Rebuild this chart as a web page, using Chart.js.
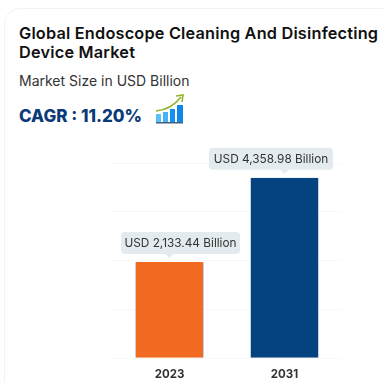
<!DOCTYPE html>
<html>
<head>
<meta charset="utf-8">
<script src="https://cdn.jsdelivr.net/npm/chart.js@4"></script>
<style>
html, body { margin: 0; padding: 0; background: #fff; }
body { width: 383px; height: 382px; overflow: hidden; position: relative; font-family: Inter, "Open Sans", sans-serif; }
.card { position: absolute; left: 4px; top: 8px; width: 400px; height: 420px; border: 1px solid #f3f3f3; border-radius: 16px; box-sizing: border-box; }
h1 { position: absolute; left: 19px; top: 24px; margin: 0; width: 370px; font-size: 16.3px; line-height: 19px; font-weight: 600; letter-spacing: 0.2px; color: #111; white-space: nowrap; }
.sub { position: absolute; left: 19px; top: 72px; font-size: 14px; line-height: 18px; color: #333; }
.cagr { position: absolute; left: 19px; top: 104px; font-size: 17px; line-height: 24px; font-weight: 800; color: #0b3a78; }
svg { position: absolute; left: 155px; top: 94px; }
.wrap { position: absolute; left: 0; top: 0; width: 383px; height: 382px; }
</style>
</head>
<body>
<div class="card"></div>
<h1>Global Endoscope Cleaning And Disinfecting<br>Device Market</h1>
<div class="sub">Market Size in USD Billion</div>
<div class="cagr">CAGR : 11.20%</div>
<svg width="30" height="30" viewBox="0 0 30 30">
  <rect x="1" y="20" width="5" height="8" fill="#5cc0f5"/>
  <rect x="8" y="18" width="5" height="10" fill="#45b4f5"/>
  <rect x="15" y="15" width="5" height="13" fill="#1590ee"/>
  <rect x="22" y="11" width="6" height="17" fill="#0f86ea"/>
  <rect x="1" y="28" width="27" height="1.5" fill="#44607a"/>
  <path d="M1 17 C 12 16 19 12 26 3" fill="none" stroke="#8fb52a" stroke-width="1.6"/>
  <path d="M21 2 L28 1 L27 8" fill="none" stroke="#8fb52a" stroke-width="1.6"/>
</svg>
<div class="wrap"><canvas id="marketChart"></canvas></div>
<script>
const years = ['2023', '2031'];
const marketSize = [2133.44, 4358.98];
const valueLabels = ['USD 2,133.44 Billion', 'USD 4,358.98 Billion'];
const barColors = ['#f26a21', '#04437f'];
const axisMin = -410;
const axisMax = 4750;
const gridStep = 1290;

// callout box above each bar, the box sits off-centre from its arrow
const calloutShift = [11, -13.5];
const calloutWidth = [119, 124];

const calloutPlugin = {
    id: 'callouts',
    afterDatasetsDraw(chart) {
        const c = chart.ctx;
        const bars = chart.getDatasetMeta(0).data;
        c.save();
        c.font = '11.8px Inter, "Open Sans", sans-serif';
        c.textAlign = 'center';
        c.textBaseline = 'middle';
        bars.forEach((bar, i) => {
            const w = calloutWidth[i], h = 22;
            const cx = bar.x + calloutShift[i];
            const top = bar.y - 8 - h;
            c.fillStyle = '#e3ebee';
            c.beginPath();
            c.roundRect(cx - w / 2, top, w, h, 4);
            c.fill();
            c.beginPath();
            c.moveTo(bar.x - 4, top + h);
            c.lineTo(bar.x, top + h + 4);
            c.lineTo(bar.x + 4, top + h);
            c.fill();
            c.fillStyle = '#333';
            c.fillText(valueLabels[i], cx, top + h / 2 + 0.5);
        });
        c.restore();
    }
};

new Chart(document.getElementById('marketChart').getContext('2d'), {
    type: 'bar',
    data: {
        labels: years,
        datasets: [{
            data: marketSize,
            base: axisMin,
            backgroundColor: barColors,
            borderColor: '#c3d3de',
            borderWidth: { left: 1, right: 1 },
            barPercentage: 0.6,
            categoryPercentage: 1
        }]
    },
    options: {
        responsive: true,
        maintainAspectRatio: false,
        animation: false,
        layout: { padding: { left: 112, right: 41, top: 163, bottom: 0 } },
        scales: {
            x: {
                grid: { display: false },
                border: { display: false },
                ticks: { color: '#333', font: { family: 'Inter', size: 11.5, weight: '700' }, padding: 1 }
            },
            y: {
                display: true,
                min: axisMin,
                max: axisMax,
                afterFit(scale) { scale.width = 0; },
                ticks: { display: false, stepSize: gridStep },
                grid: { color: '#f8f8f8', drawTicks: false },
                border: { display: false }
            }
        },
        plugins: { legend: { display: false }, tooltip: { enabled: false } }
    },
    plugins: [calloutPlugin]
});
</script>
</body>
</html>
